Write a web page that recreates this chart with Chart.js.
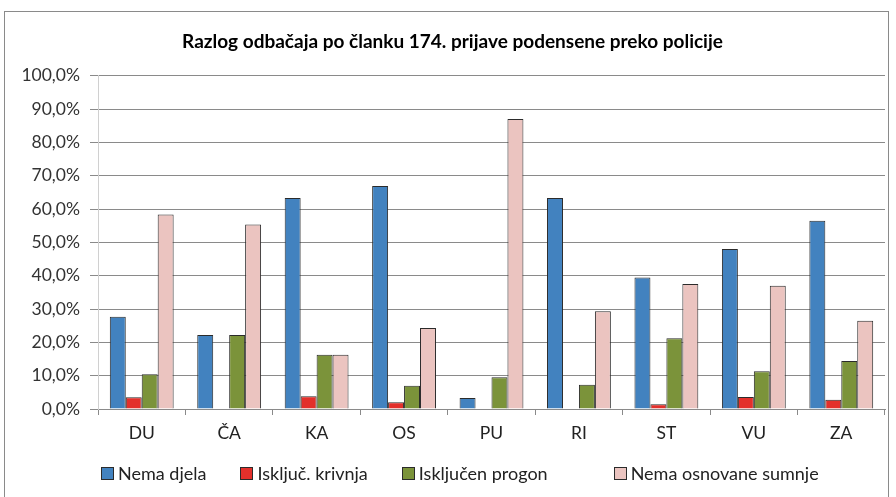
<!DOCTYPE html>
<html>
<head>
<meta charset="utf-8">
<script src="https://cdn.jsdelivr.net/npm/chart.js@4.4.1/dist/chart.umd.min.js"></script>
<style>
    html, body { margin: 0; padding: 0; background: #fff; }
    #wrap { position: relative; width: 896px; height: 497px; overflow: hidden; font-family: Lato, "Open Sans", sans-serif; }
    #frame { position: absolute; left: 4px; top: 11px; width: 885px; height: 500px; border: 1px solid #8a8a8a; box-sizing: border-box; }
    #chart { position: absolute; left: 0; top: 0; }
    #legend { position: absolute; left: 101px; top: 462px; display: flex; align-items: center; font-size: 18px; color: #222; }
    #legend .item { display: flex; align-items: center; white-space: nowrap; }
    #legend .item + .item { margin-left: 34px; }
    #legend .item:last-child { margin-left: 66px; }
    #legend .box { width: 13px; height: 13px; border: 1px solid #2b2b2b; box-sizing: border-box; margin-right: 4px; }
</style>
</head>
<body>
<div id="wrap">
    <div id="frame"></div>
    <canvas id="chart" width="896" height="497"></canvas>
    <div id="legend"></div>
</div>
<script>
// Razlog odbačaja po članku 174. - udio po županijskim državnim odvjetništvima
const regions = ['DU', 'ČA', 'KA', 'OS', 'PU', 'RI', 'ST', 'VU', 'ZA'];
const nemaDjela = [27.7, 22.2, 63.3, 66.9, 3.3, 63.3, 39.5, 48.0, 56.5];
const iskljucKrivnja = [3.5, 0, 3.8, 2.0, 0, 0, 1.4, 3.6, 2.8];
const iskljucenProgon = [10.4, 22.2, 16.3, 7.0, 9.5, 7.3, 21.2, 11.3, 14.4];
const nemaSumnje = [58.4, 55.4, 16.3, 24.3, 87.0, 29.3, 37.5, 37.0, 26.5];
const yTicks = [0, 10, 20, 30, 40, 50, 60, 70, 80, 90, 100];

const FONT = 'Lato, "Open Sans", sans-serif';

function series(label, data, color) {
    return {
        label: label,
        data: data,
        backgroundColor: color,
        borderColor: '#2b2b2b',
        borderWidth: 1,
        categoryPercentage: 0.73,
        barPercentage: 1.0
    };
}

const ctx = document.getElementById('chart').getContext('2d');
const chart = new Chart(ctx, {
    type: 'bar',
    data: {
        labels: regions,
        datasets: [
            series('Nema djela', nemaDjela, '#4282bf'),
            series('Isključ. krivnja', iskljucKrivnja, '#e3302b'),
            series('Isključen progon', iskljucenProgon, '#7b933a'),
            series('Nema osnovane sumnje', nemaSumnje, '#ebc4c0')
        ]
    },
    options: {
        responsive: false,
        animation: false,
        devicePixelRatio: 1,
        layout: { padding: { top: 30, right: 11, bottom: 52, left: 20 } },
        plugins: {
            title: {
                display: true,
                text: 'Razlog odbačaja po članku 174. prijave podensene preko policije',
                color: '#000',
                font: { family: FONT, size: 19, weight: 'bold' },
                padding: { top: 0, bottom: 23 }
            },
            legend: { display: false },
            tooltip: { enabled: false }
        },
        scales: {
            x: {
                afterFit: (scale) => { scale.height = 36; },
                grid: {
                    offset: true,
                    drawOnChartArea: false,
                    drawTicks: true,
                    tickLength: 6,
                    color: '#8a8a8a'
                },
                border: { color: '#8a8a8a' },
                ticks: {
                    color: '#222',
                    font: { family: FONT, size: 17.5 },
                    padding: 8
                }
            },
            y: {
                min: 0,
                max: 100,
                afterFit: (scale) => { scale.width = 78; },
                afterBuildTicks: (scale) => {
                    scale.ticks = yTicks.map(v => ({ value: v }));
                },
                grid: {
                    color: '#8a8a8a',
                    tickLength: 8
                },
                border: { color: '#d0d0d0' },
                ticks: {
                    color: '#333',
                    font: { family: FONT, size: 17.5 },
                    padding: 10,
                    callback: (v) => v.toFixed(1).replace('.', ',') + '%'
                }
            }
        }
    }
});

// Legend built from the chart's datasets
const legendEl = document.getElementById('legend');
chart.data.datasets.forEach(ds => {
    const item = document.createElement('div');
    item.className = 'item';
    const box = document.createElement('span');
    box.className = 'box';
    box.style.background = ds.backgroundColor;
    const label = document.createElement('span');
    label.textContent = ds.label;
    item.appendChild(box);
    item.appendChild(label);
    legendEl.appendChild(item);
});
</script>
</body>
</html>
